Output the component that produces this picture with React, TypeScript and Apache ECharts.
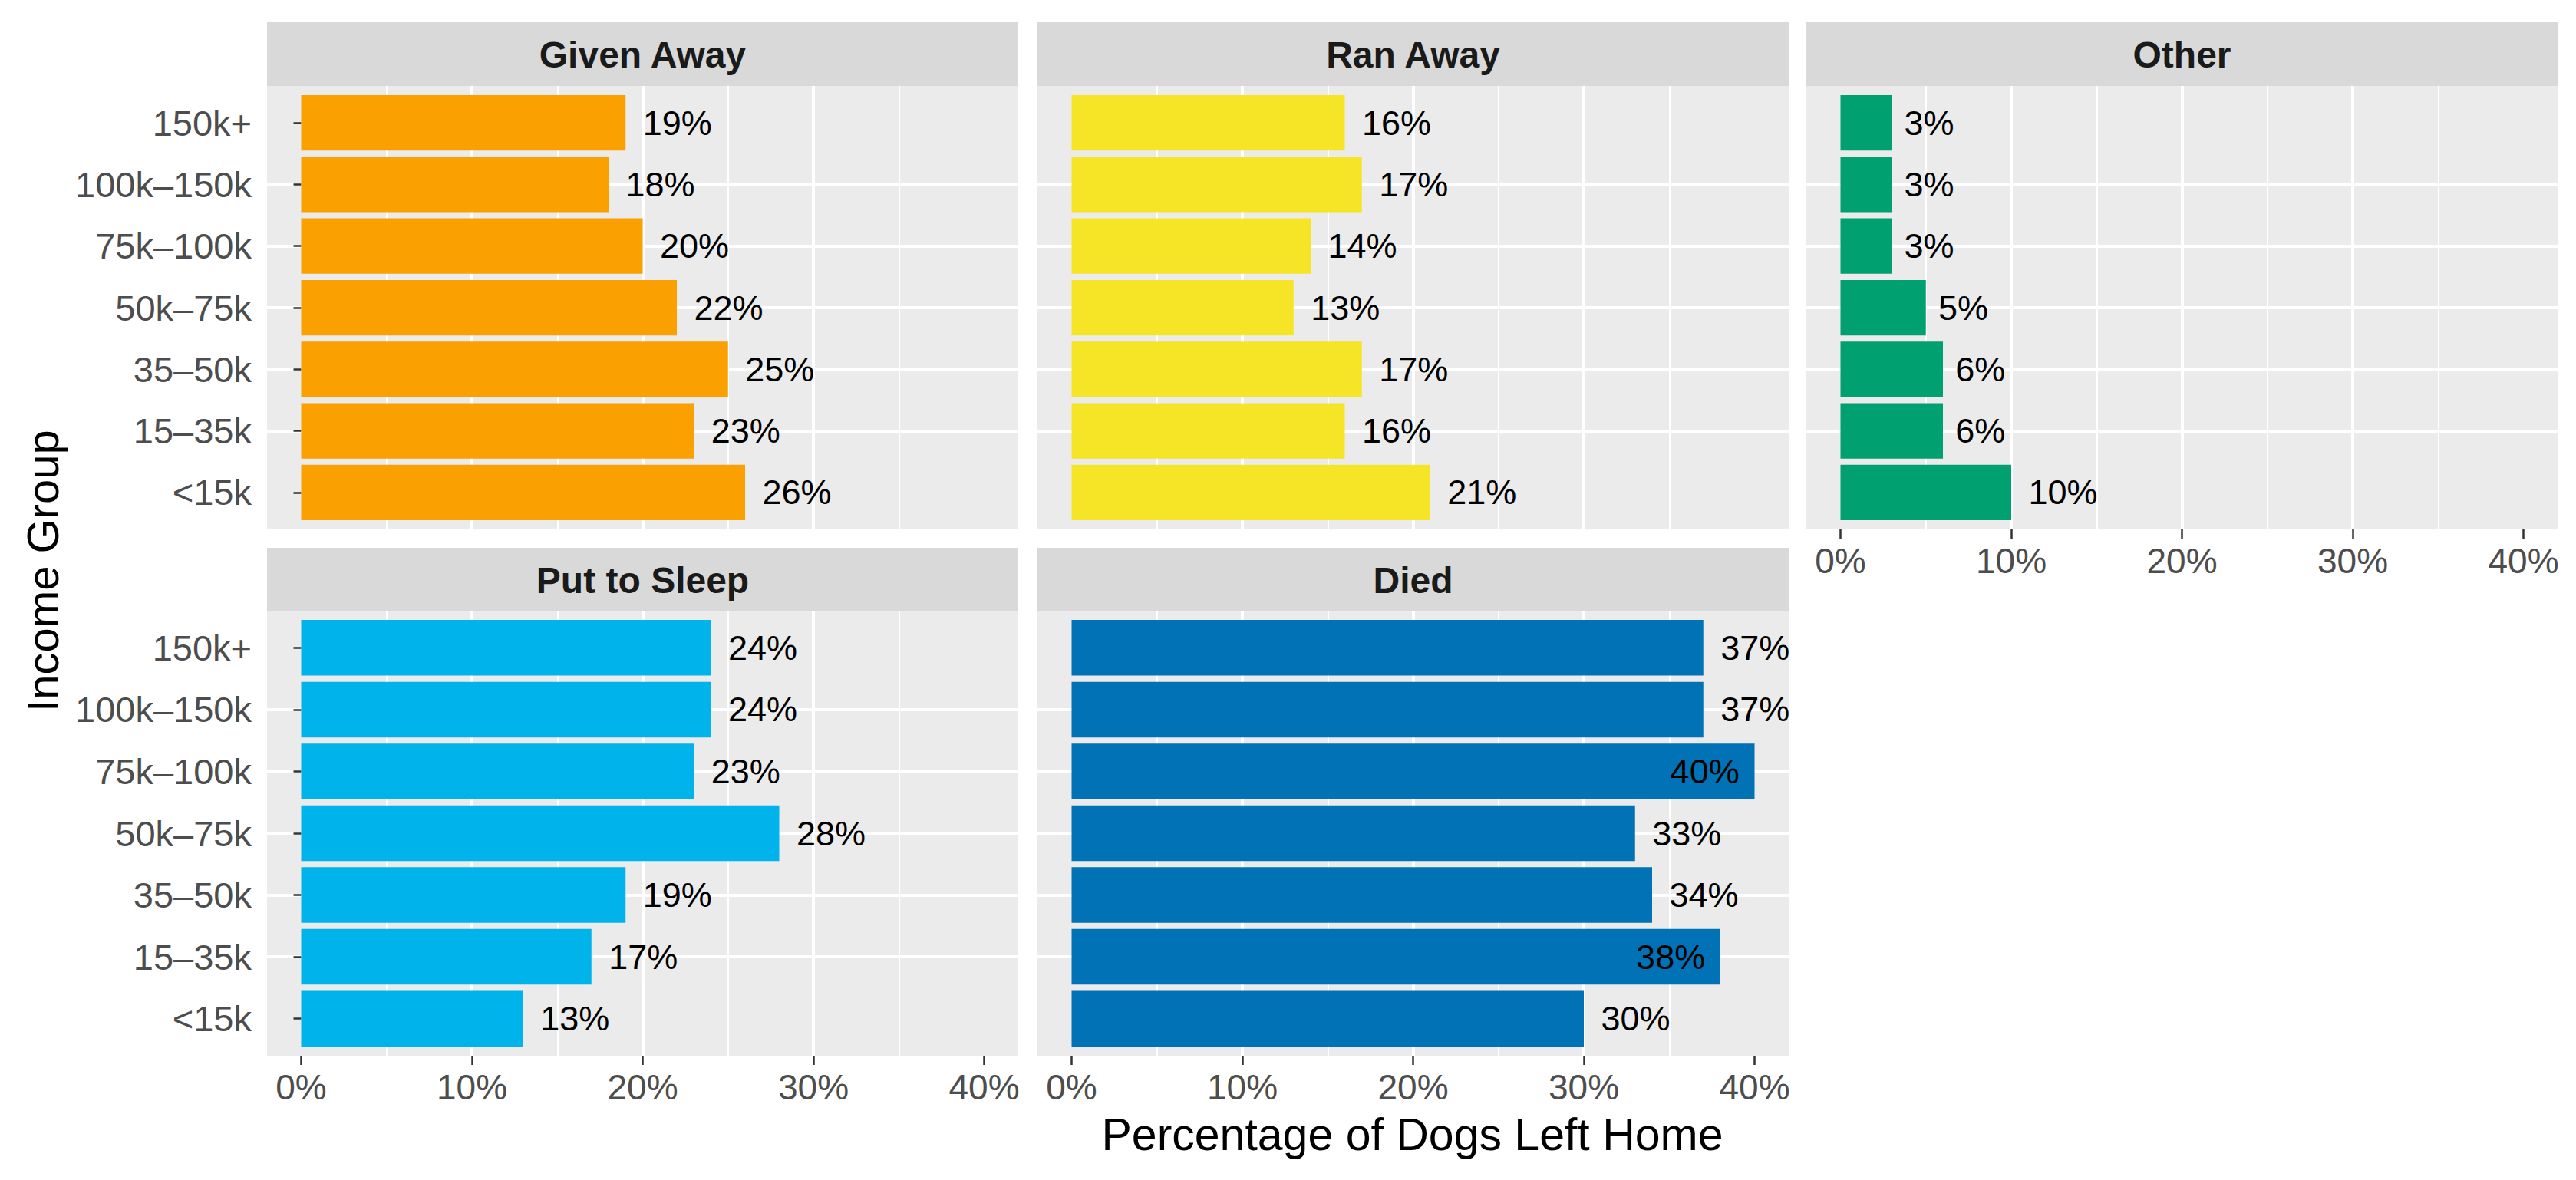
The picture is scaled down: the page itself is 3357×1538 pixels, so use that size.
import React, { useEffect, useRef } from "react";
import * as echarts from "echarts";

// ---------- data ----------
const CATEGORIES = ["<15k", "15–35k", "35–50k", "50k–75k", "75k–100k", "100k–150k", "150k+"]; // bottom → top
const GIVEN_AWAY = [26, 23, 25, 22, 20, 18, 19];
const RAN_AWAY = [21, 16, 17, 13, 14, 17, 16];
const OTHER = [10, 6, 6, 5, 3, 3, 3];
const PUT_TO_SLEEP = [13, 17, 19, 28, 23, 24, 24];
const DIED = [30, 38, 34, 33, 40, 37, 37];
const X_TICKS = [0, 10, 20, 30, 40];
const Y_GRID = [1, 2, 3, 4, 5, 6, 7];
const X_TITLE = "Percentage of Dogs Left Home";
const Y_TITLE = "Income Group";

const PANELS = [
  { name: "Given Away", values: GIVEN_AWAY, color: "#FAA000", col: 0, row: 0, yLabels: true, xLabels: false },
  { name: "Ran Away", values: RAN_AWAY, color: "#F5E526", col: 1, row: 0, yLabels: false, xLabels: false },
  { name: "Other", values: OTHER, color: "#00A070", col: 2, row: 0, yLabels: false, xLabels: true },
  { name: "Put to Sleep", values: PUT_TO_SLEEP, color: "#00B4EB", col: 0, row: 1, yLabels: true, xLabels: true },
  { name: "Died", values: DIED, color: "#0072B5", col: 1, row: 1, yLabels: false, xLabels: true },
];

// ---------- layout ----------
const W = 3357;
const H = 1538;
const COL_LEFT = [348, 1352, 2354];
const COL_W = 979;
const STRIP_TOP = [29, 714];
const STRIP_H = 83;
const PLOT_TOP = [112, 796];
const PLOT_H = [578, 580];
const X_MIN = -2;
const X_MAX = 42;
const FONT = "'Liberation Sans', Arial, Helvetica, sans-serif";
const INSIDE_FROM = 38;
const LABEL_SIZE = 45;

function labelWidth(v: number) {
  const digits = String(v).length;
  return (digits * 0.556 + 0.889) * LABEL_SIZE;
}

export default function App() {
  const ref = useRef<HTMLDivElement>(null);

  useEffect(() => {
    if (!ref.current) return;
    const chart = echarts.init(ref.current, undefined, { renderer: "svg" });

    const grid: any[] = [];
    const xAxis: any[] = [];
    const yAxis: any[] = [];
    const series: any[] = [];
    const graphic: any[] = [];

    PANELS.forEach((p, i) => {
      const left = COL_LEFT[p.col];
      const top = PLOT_TOP[p.row];
      const h = PLOT_H[p.row];
      const unit = h / 7.2;

      // background grid
      grid.push({
        left, top, width: COL_W, height: h,
        show: true, backgroundColor: "#EBEBEB", borderWidth: 0,
        containLabel: false, outerBoundsMode: "none",
      });
      // bar grid
      grid.push({
        left, top: top + 0.1 * unit, width: COL_W, height: h - 0.2 * unit,
        show: false, containLabel: false, outerBoundsMode: "none",
      });

      xAxis.push({
        type: "value", gridIndex: 2 * i, min: X_MIN, max: X_MAX,
        axisLine: { show: false },
        axisTick: {
          show: p.xLabels, customValues: X_TICKS, length: 12,
          lineStyle: { color: "#333333", width: 2.5 },
        },
        axisLabel: {
          show: p.xLabels, customValues: X_TICKS, margin: 18,
          formatter: (v: number) => `${v}%`,
          color: "#4D4D4D", fontSize: 46, fontFamily: FONT,
        },
        splitLine: { show: true, showMinLine: false, showMaxLine: false, lineStyle: { color: "#FFFFFF", width: 4 } },
        minorTick: { show: false, splitNumber: 2 },
        minorSplitLine: { show: true, lineStyle: { color: "#FFFFFF", width: 2 } },
      });
      xAxis.push({
        type: "value", gridIndex: 2 * i + 1, min: X_MIN, max: X_MAX, show: false,
        splitLine: { show: false },
      });

      yAxis.push({
        type: "value", gridIndex: 2 * i, min: 0.4, max: 7.6, splitNumber: 7,
        axisLine: { show: false },
        axisTick: { show: false, customValues: Y_GRID },
        axisLabel: { show: false, customValues: Y_GRID },
        splitLine: { show: true, showMinLine: false, showMaxLine: false, lineStyle: { color: "#FFFFFF", width: 4 } },
      });
      yAxis.push({
        type: "category", gridIndex: 2 * i + 1, data: CATEGORIES,
        axisLine: { show: false },
        axisTick: {
          show: p.yLabels, alignWithLabel: true, length: 10,
          lineStyle: { color: "#333333", width: 2.5 },
        },
        axisLabel: {
          show: p.yLabels, margin: 20, color: "#4D4D4D", fontSize: 47, fontFamily: FONT,
        },
        splitLine: { show: false },
      });

      series.push({
        type: "bar", xAxisIndex: 2 * i + 1, yAxisIndex: 2 * i + 1,
        barCategoryGap: "10%",
        itemStyle: { color: p.color },
        data: p.values.map((v) => {
          const inside = v >= INSIDE_FROM;
          return {
            value: v,
            label: {
              show: true,
              position: inside ? "insideRight" : "right",
              distance: labelWidth(v) * (inside ? 0.22 : 0.25),
              formatter: `${v}%`,
              color: "#000000", fontSize: LABEL_SIZE, fontFamily: FONT,
            },
          };
        }),
      });

      // strip
      graphic.push({
        type: "rect", silent: true,
        shape: { x: left, y: STRIP_TOP[p.row], width: COL_W, height: STRIP_H },
        style: { fill: "#D9D9D9" },
      });
      graphic.push({
        type: "text", silent: true,
        x: left + COL_W / 2, y: STRIP_TOP[p.row] + STRIP_H / 2 + 1,
        style: {
          text: p.name, fill: "#1A1A1A", fontSize: 48, fontWeight: "bold", fontFamily: FONT,
          align: "center", verticalAlign: "middle", textAlign: "center", textVerticalAlign: "middle",
        },
      });
    });

    graphic.push({
      type: "text", silent: true,
      x: (COL_LEFT[0] + COL_LEFT[2] + COL_W) / 2, y: 1479,
      style: {
        text: X_TITLE, fill: "#000000", fontSize: 59, fontFamily: FONT,
        align: "center", verticalAlign: "middle", textAlign: "center", textVerticalAlign: "middle",
      },
    });
    graphic.push({
      type: "text", silent: true,
      x: 55, y: (PLOT_TOP[0] + PLOT_TOP[1] + PLOT_H[1]) / 2, rotation: Math.PI / 2,
      style: {
        text: Y_TITLE, fill: "#000000", fontSize: 58, fontFamily: FONT,
        align: "center", verticalAlign: "middle", textAlign: "center", textVerticalAlign: "middle",
      },
    });

    chart.setOption({
      animation: false,
      backgroundColor: "#FFFFFF",
      textStyle: { fontFamily: FONT },
      grid, xAxis, yAxis, series, graphic,
    });

    return () => chart.dispose();
  }, []);

  return (
    <div
      ref={ref}
      style={{ position: "absolute", left: 0, top: 0, width: W, height: H }}
    />
  );
}
